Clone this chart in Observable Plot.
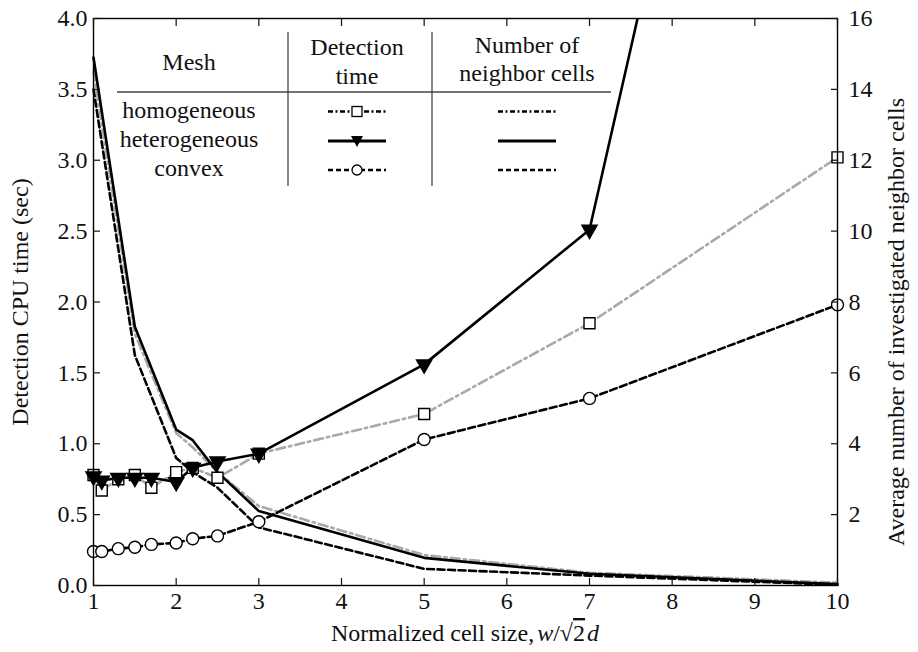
<!DOCTYPE html>
<html><head><meta charset="utf-8">
<script src="https://cdn.jsdelivr.net/npm/d3@7"></script>
<script src="https://cdn.jsdelivr.net/npm/@observablehq/plot@0.6"></script>
<style>
body{margin:0;background:#fff}
#chart svg, #chart svg text{font-family:"Liberation Serif","Times New Roman",Times,"DejaVu Serif",serif !important}
</style>
</head><body><div id="chart"></div>
<script>
// ---- data ----
const cellSize   = [1, 1.1, 1.3, 1.5, 1.7, 2, 2.2, 2.5, 3, 5, 7, 10];
const timeHomo   = [0.78, 0.67, 0.75, 0.78, 0.69, 0.80, 0.83, 0.76, 0.93, 1.21, 1.85, 3.02];
const timeHetero = [0.77, 0.74, 0.76, 0.76, 0.76, 0.73, 0.83, 0.875, 0.93, 1.56, 2.51, 10.2];
const timeConvex = [0.24, 0.24, 0.26, 0.27, 0.29, 0.30, 0.33, 0.35, 0.45, 1.03, 1.32, 1.98];

const nbCellSize = [1, 1.5, 2, 2.2, 2.5, 3, 5, 7, 10];
const nbHomo     = [14.5, 7.1, 4.3, 3.9, 3.2, 2.24, 0.86, 0.36, 0.08];
const nbHetero   = [14.9, 7.3, 4.4, 4.1, 3.2, 2.1, 0.78, 0.33, 0.04];
const nbConvex   = [14.0, 6.5, 3.6, 3.2, 2.76, 1.64, 0.47, 0.28, 0.02];

const xTicks = [1, 2, 3, 4, 5, 6, 7, 8, 9, 10];
const yTicks = [0, 0.5, 1, 1.5, 2, 2.5, 3, 3.5, 4];
const rightTicks = [2, 4, 6, 8, 10, 12, 14, 16];
const rightPerLeft = 4; // right axis = left axis * 4

const meshNames = ["homogeneous", "heterogeneous", "convex"];

// ---- tables ----
const timeRows = cellSize.map((x, i) => ({x, hom: timeHomo[i], het: timeHetero[i], con: timeConvex[i]}));
const nbRows = nbCellSize.map((x, i) => ({x, hom: nbHomo[i] / rightPerLeft, het: nbHetero[i] / rightPerLeft, con: nbConvex[i] / rightPerLeft}));

const GRAY = "#a9a9a9";
const SW = 2.6;
const DASH = "7,3.5";
const DASHDOT = "9,4,2.5,4";
const FS = 24;
const SERIF = '"Liberation Serif","Times New Roman",Times,serif';

const plot = Plot.plot({
  width: 918, height: 652,
  marginLeft: 93, marginRight: 81, marginTop: 18, marginBottom: 67,
  x: {domain: [1, 10]},
  y: {domain: [0, 4]},
  style: {fontFamily: SERIF, fontSize: FS + "px", color: "#111"},
  marks: [
    Plot.line(nbRows, {x: "x", y: "hom", stroke: GRAY, strokeWidth: SW, strokeDasharray: DASHDOT}),
    Plot.line(nbRows, {x: "x", y: "het", stroke: "#000", strokeWidth: SW}),
    Plot.line(nbRows, {x: "x", y: "con", stroke: "#000", strokeWidth: SW, strokeDasharray: DASH}),
    Plot.line(timeRows, {x: "x", y: "hom", stroke: GRAY, strokeWidth: SW, strokeDasharray: DASHDOT}),
    Plot.line(timeRows, {x: "x", y: "con", stroke: "#000", strokeWidth: SW, strokeDasharray: DASH}),
    Plot.line(timeRows, {x: "x", y: "het", stroke: "#000", strokeWidth: SW, clip: true}),
    Plot.dot(timeRows, {x: "x", y: "con", symbol: "circle", r: 6, fill: "#fff", stroke: "#000", strokeWidth: 1.4}),
    Plot.dot(timeRows, {x: "x", y: "hom", symbol: "square", r: 6.2, fill: "#fff", stroke: "#000", strokeWidth: 1.4}),
    Plot.dot(timeRows.filter(d => d.het <= 4), {x: "x", y: "het", symbol: "triangle", r: 5.6, fill: "#000", stroke: "#000", rotate: 180}),
    Plot.frame({stroke: "#000", strokeWidth: 1.4}),
    Plot.axisX(xTicks, {anchor: "bottom", tickSize: 7, dy: -7, tickFormat: () => "", label: null, strokeWidth: 1.2}),
    Plot.axisX(xTicks, {anchor: "top", tickSize: 7, dy: 7, tickFormat: () => "", label: null, strokeWidth: 1.2}),
    Plot.axisY(yTicks, {anchor: "left", tickSize: 7, dx: 7, tickFormat: () => "", label: null, strokeWidth: 1.2}),
    Plot.axisY(rightTicks.map(v => v / rightPerLeft), {anchor: "right", tickSize: 7, dx: -7, tickFormat: () => "", label: null, strokeWidth: 1.2}),
    Plot.axisX(xTicks, {anchor: "bottom", tickSize: 0, tickPadding: 6, label: null, fontSize: FS}),
    Plot.axisY(yTicks, {anchor: "left", tickSize: 0, tickPadding: 6, label: null, tickFormat: d3.format(".1f"), fontSize: FS}),
    Plot.axisY(rightTicks.map(v => v / rightPerLeft), {anchor: "right", tickSize: 0, tickPadding: 11, label: null, tickFormat: d => String(d * rightPerLeft), fontSize: FS})
  ]
});

document.getElementById("chart").appendChild(plot);

const svg = d3.select(plot);

// axis titles
svg.append("text")
  .attr("transform", "translate(28,302) rotate(-90)")
  .attr("text-anchor", "middle").attr("font-size", FS).attr("fill", "#111")
  .text("Detection CPU time (sec)");
svg.append("text")
  .attr("transform", "translate(904,322) rotate(-90)")
  .attr("text-anchor", "middle").attr("font-size", FS).attr("fill", "#111")
  .text("Average number of investigated neighbor cells");
const xt = svg.append("text")
  .attr("x", 465).attr("y", 641).attr("text-anchor", "middle").attr("font-size", FS).attr("fill", "#111");
xt.append("tspan").text("Normalized cell size,");
xt.append("tspan").attr("font-style", "italic").attr("dx", 3).text("w");
xt.append("tspan").text("/\u221A");
xt.append("tspan").attr("text-decoration", "overline").text("2");
xt.append("tspan").attr("font-style", "italic").attr("dx", 2).text("d");

// legend table
const lg = svg.append("g").attr("font-size", FS).attr("fill", "#111").attr("text-anchor", "middle");
lg.append("line").attr("x1", 117).attr("x2", 611).attr("y1", 92).attr("y2", 92).attr("stroke", "#444").attr("stroke-width", 1.3);
[288, 432].forEach(x => lg.append("line").attr("x1", x).attr("x2", x).attr("y1", 32).attr("y2", 186).attr("stroke", "#444").attr("stroke-width", 1.3));
lg.append("text").attr("x", 189).attr("y", 70).text("Mesh");
lg.append("text").attr("x", 357).attr("y", 55).text("Detection");
lg.append("text").attr("x", 357).attr("y", 84).text("time");
lg.append("text").attr("x", 527).attr("y", 53).text("Number of");
lg.append("text").attr("x", 527).attr("y", 81).text("neighbor cells");
const rowY = [111.5, 141, 170];
const styles = [
  {dash: "5,2.5,2,2.5", marker: "square"},
  {dash: null, marker: "tri"},
  {dash: "5,3", marker: "circle"}
];
meshNames.forEach((name, i) => {
  const y = rowY[i];
  lg.append("text").attr("x", 189).attr("y", y + 6).text(name);
  const s = styles[i];
  [[328, 386], [498, 556]].forEach(([a, b]) => {
    const l = lg.append("line").attr("x1", a).attr("x2", b).attr("y1", y).attr("y2", y)
      .attr("stroke", "#000").attr("stroke-width", i === 1 ? 3 : 2.4);
    if (s.dash) l.attr("stroke-dasharray", s.dash);
  });
  const cx = 357;
  if (s.marker === "square") lg.append("rect").attr("x", cx - 5).attr("y", y - 5).attr("width", 10).attr("height", 10).attr("fill", "#fff").attr("stroke", "#000").attr("stroke-width", 1.3);
  if (s.marker === "circle") lg.append("circle").attr("cx", cx).attr("cy", y).attr("r", 5).attr("fill", "#fff").attr("stroke", "#000").attr("stroke-width", 1.3);
  if (s.marker === "tri") lg.append("path").attr("d", `M${cx - 6},${y - 5}L${cx + 6},${y - 5}L${cx},${y + 6}Z`).attr("fill", "#000");
});
</script>
</body></html>
